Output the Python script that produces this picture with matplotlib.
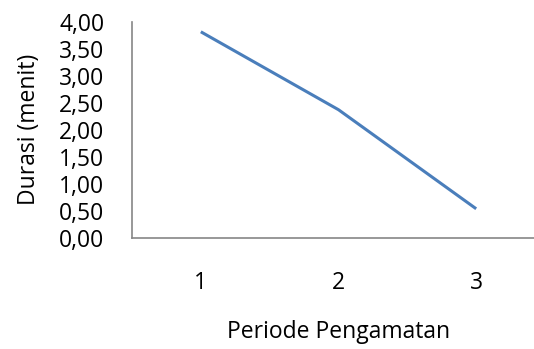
import matplotlib
matplotlib.use("Agg")
import matplotlib.pyplot as plt
from matplotlib.ticker import FuncFormatter

# data
periode = [1, 2, 3]
durasi = [3.81, 2.37, 0.54]
y_ticks = [0.0, 0.5, 1.0, 1.5, 2.0, 2.5, 3.0, 3.5, 4.0]

plt.rcParams['font.family'] = ['Open Sans', 'DejaVu Sans']

W, H = 534, 349
fig = plt.figure(figsize=(W / 100, H / 100), dpi=100)
# plot area runs past the right edge (the reference is cropped there)
left, right = 132, 545
top, bottom = 21.5, 238
ax = fig.add_axes([left / W, 1 - bottom / H, (right - left) / W, (bottom - top) / H])

ax.plot(periode, durasi, color='#4A7EBB', linewidth=2.2, solid_capstyle='butt')

ax.set_xlim(0.5, 3.5)
ax.set_ylim(0, 4)
ax.set_xticks(periode)
ax.set_yticks(y_ticks)
ax.yaxis.set_major_formatter(FuncFormatter(lambda v, p: f"{v:.2f}".replace('.', ',')))

for s in ['top', 'right']:
    ax.spines[s].set_visible(False)
for s in ['left', 'bottom']:
    ax.spines[s].set_color('#868686')
    ax.spines[s].set_linewidth(1.2)

fs = 16.5
ax.tick_params(axis='both', length=0, labelsize=fs, colors='black')
ax.tick_params(axis='y', pad=20)
ax.tick_params(axis='x', pad=24)

ax.set_xlabel('Periode Pengamatan', fontsize=fs, labelpad=18)
ax.set_ylabel('Durasi (menit)', fontsize=fs, labelpad=13)

fig.savefig('out.png', dpi=100)
